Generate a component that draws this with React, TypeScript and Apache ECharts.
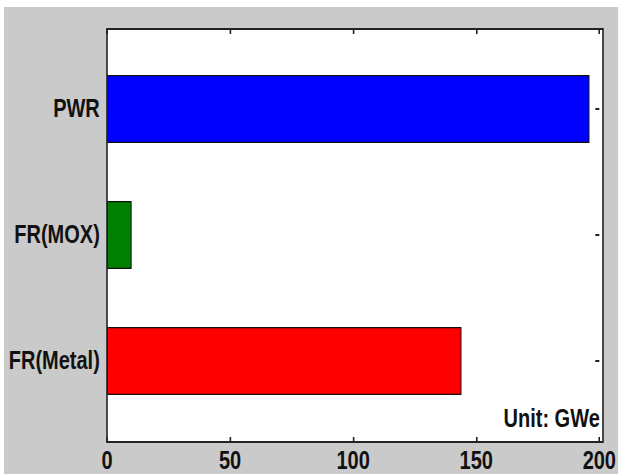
import React, { useEffect, useRef } from "react";
import * as echarts from "echarts";

// Installed capacity by reactor type (GWe), listed bottom to top
const categories = ["FR(Metal)", "FR(MOX)", "PWR"];
const capacityGWe = [144, 10, 196];
const barColors = ["#ff0000", "#007f00", "#0000ff"];
const xTicks = [0, 50, 100, 150, 200];
const unitLabel = "Unit: GWe";

// The figure is drawn wide and squeezed horizontally, giving tall narrow lettering
const SQUEEZE = 0.8;
const W = 768;
const H = 467;

// Frame of the plotting area, in chart pixels
const FRAME = { left: 128.75, top: 22, right: 748.75, bottom: 435 };
// Category bands sit inside the frame with extra room above and below
const BAND_TOP = 39;
const BAND_BOTTOM = 417;

export default function App() {
  const ref = useRef<HTMLDivElement>(null);

  useEffect(() => {
    document.body.style.margin = "0";
    const chart = echarts.init(ref.current!, null, { renderer: "svg" });
    const labelFont = {
      fontFamily: '"Liberation Sans", Arial, sans-serif',
      fontWeight: "bold" as const,
      fontSize: 25,
      color: "#111",
    };
    const tickStyle = { color: "#222", width: 2 };
    const hiddenLine = { show: false, onZero: false };

    chart.setOption({
      animation: false,
      backgroundColor: "#cacaca",
      grid: {
        left: FRAME.left,
        right: W - FRAME.right,
        top: BAND_TOP,
        bottom: H - BAND_BOTTOM,
        containLabel: false,
      },
      xAxis: [
        {
          type: "value",
          position: "bottom",
          offset: FRAME.bottom - BAND_BOTTOM,
          min: xTicks[0],
          max: xTicks[xTicks.length - 1],
          interval: xTicks[1] - xTicks[0],
          axisLine: hiddenLine,
          axisTick: { show: true, inside: true, length: 5, lineStyle: tickStyle },
          splitLine: { show: false },
          axisLabel: { ...labelFont, margin: 6 },
        },
        {
          type: "value",
          position: "top",
          offset: BAND_TOP - FRAME.top,
          min: xTicks[0],
          max: xTicks[xTicks.length - 1],
          interval: xTicks[1] - xTicks[0],
          axisLine: hiddenLine,
          axisTick: { show: true, inside: true, length: 5, lineStyle: tickStyle },
          splitLine: { show: false },
          axisLabel: { show: false },
        },
      ],
      yAxis: [
        {
          type: "category",
          position: "left",
          data: categories,
          axisLine: hiddenLine,
          axisTick: { show: false },
          axisLabel: { ...labelFont, margin: 9 },
        },
        {
          type: "category",
          position: "right",
          data: categories,
          axisLine: hiddenLine,
          axisTick: {
            show: true,
            inside: true,
            length: 5,
            alignWithLabel: true,
            lineStyle: tickStyle,
          },
          axisLabel: { show: false },
        },
      ],
      series: [
        {
          type: "bar",
          xAxisIndex: 0,
          yAxisIndex: 0,
          barWidth: 68,
          z: 3,
          itemStyle: { borderColor: "#111", borderWidth: 1.2 },
          data: capacityGWe.map((v, i) => ({
            value: v,
            itemStyle: { color: barColors[i] },
          })),
        },
      ],
      graphic: [
        {
          type: "rect",
          z: -5,
          shape: {
            x: FRAME.left,
            y: FRAME.top,
            width: FRAME.right - FRAME.left,
            height: FRAME.bottom - FRAME.top,
          },
          style: { fill: "#ffffff", stroke: "none" },
        },
        {
          type: "rect",
          z: 20,
          shape: {
            x: FRAME.left,
            y: FRAME.top,
            width: FRAME.right - FRAME.left,
            height: FRAME.bottom - FRAME.top,
          },
          style: { fill: "none", stroke: "#222", lineWidth: 2 },
        },
        {
          type: "text",
          z: 20,
          style: {
            text: unitLabel,
            x: FRAME.right - 4,
            y: 412,
            align: "right",
            verticalAlign: "middle",
            fontFamily: '"Liberation Sans", Arial, sans-serif',
            fontWeight: "bold",
            fontSize: 25,
            fill: "#111",
          },
        },
      ],
    });

    return () => chart.dispose();
  }, []);

  return (
    <div
      style={{
        position: "relative",
        width: 619,
        height: 474,
        background: "#ffffff",
        overflow: "hidden",
      }}
    >
      <div
        ref={ref}
        style={{
          position: "absolute",
          left: 4,
          top: 7,
          width: W,
          height: H,
          transform: `scaleX(${SQUEEZE})`,
          transformOrigin: "0 0",
        }}
      />
    </div>
  );
}
